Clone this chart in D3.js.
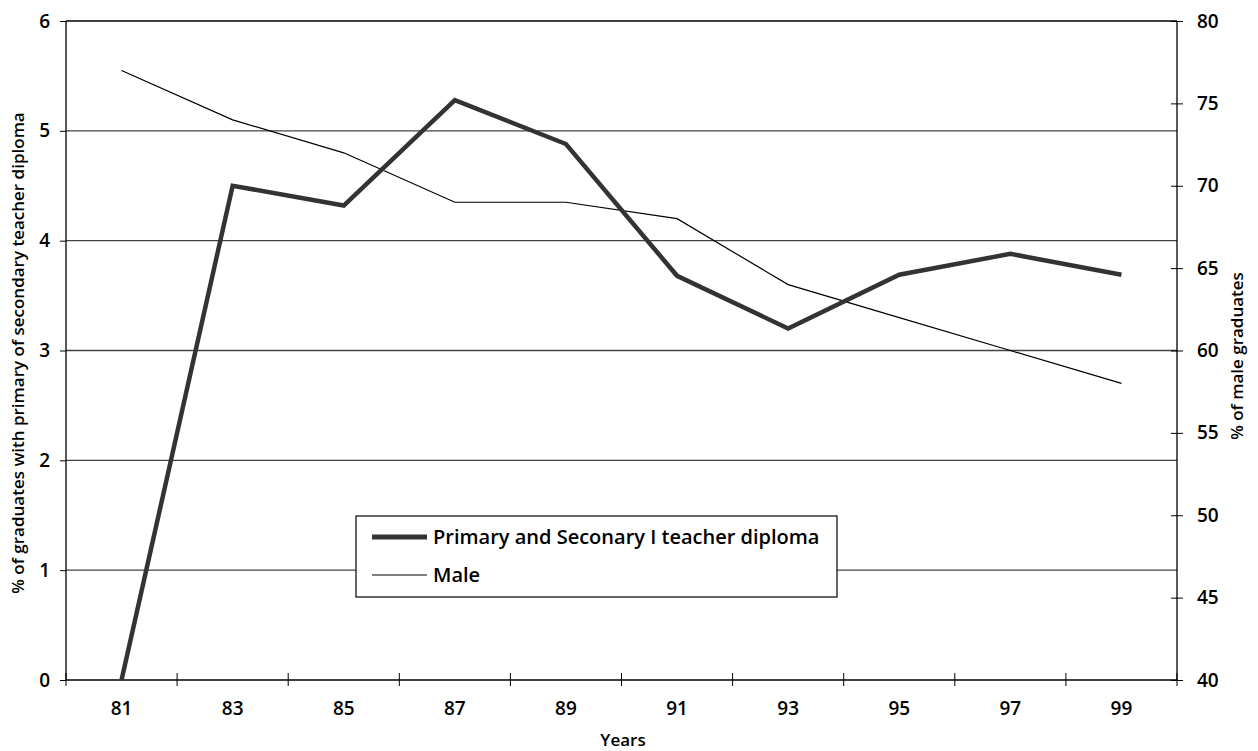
<!DOCTYPE html>
<html>
<head>
<meta charset="utf-8">
<script src="https://cdn.jsdelivr.net/npm/d3@7"></script>
<style>
  body { margin: 0; background: #fff; }
  text { font-family: "Open Sans", "Liberation Sans", Arial, sans-serif; font-weight: 600; fill: #000; }
</style>
</head>
<body>
<svg id="chart" width="1258" height="751"></svg>
<script>
const years = ["81", "83", "85", "87", "89", "91", "93", "95", "97", "99"];
const diploma = [0, 4.5, 4.32, 5.28, 4.88, 3.68, 3.2, 3.69, 3.88, 3.69];
const male = [77, 74, 72, 69, 69, 68, 64, 62, 60, 58];
const leftTicks = [0, 1, 2, 3, 4, 5, 6];
const rightTicks = [40, 45, 50, 55, 60, 65, 70, 75, 80];

const FONT = "Open Sans, Liberation Sans, Arial, sans-serif";
const svg = d3.select("#chart");
const m = { left: 66, right: 1177, top: 21, bottom: 680 };

const x = d3.scaleBand().domain(years).range([m.left, m.right]);
const yL = d3.scaleLinear().domain([0, 6]).range([m.bottom, m.top]);
const yR = d3.scaleLinear().domain([40, 80]).range([m.bottom, m.top]);

// gridlines
svg.append("g")
  .selectAll("line")
  .data(leftTicks.slice(1))
  .join("line")
  .attr("x1", m.left).attr("x2", m.right)
  .attr("y1", d => yL(d)).attr("y2", d => yL(d))
  .attr("stroke", d => d === 6 ? "#000" : "#444")
  .attr("stroke-width", 1.3);

// axes
const gL = svg.append("g").attr("transform", `translate(${m.left},0)`)
  .call(d3.axisLeft(yL).tickValues(leftTicks).tickSize(6).tickPadding(10).tickFormat(d3.format("d")));
const gB = svg.append("g").attr("transform", `translate(0,${m.bottom})`)
  .call(d3.axisBottom(x).tickSize(0).tickPadding(22));
const gR = svg.append("g").attr("transform", `translate(${m.right},0)`)
  .call(d3.axisRight(yR).tickValues(rightTicks).tickSize(6).tickPadding(14));

[gL, gB, gR].forEach(g => {
  g.select(".domain").attr("stroke", "#000").attr("stroke-width", 1.3);
  g.selectAll("text").attr("font-size", 19).attr("font-family", FONT).attr("font-weight", 600);
  g.selectAll(".tick line").attr("stroke", "#000");
});
gR.selectAll(".tick line").attr("x1", -6);
gR.select(".domain").attr("d", `M0,${m.top}V${m.bottom}`);
gL.select(".domain").attr("d", `M0,${m.top}V${m.bottom}`);
gB.select(".domain").attr("d", `M${m.left},0H${m.right}`);

// band edge ticks on the x axis
const edges = years.map(d => x(d)).concat([m.right]);
svg.append("g").selectAll("line").data(edges).join("line")
  .attr("x1", d => d).attr("x2", d => d)
  .attr("y1", m.bottom - 7).attr("y2", m.bottom + 6)
  .attr("stroke", "#000");

const cx = d => x(d) + x.bandwidth() / 2;

// male line
svg.append("path")
  .datum(years.map((d, i) => [cx(d), yR(male[i])]))
  .attr("fill", "none").attr("stroke", "#000").attr("stroke-width", 1.2)
  .attr("d", d3.line());

// diploma line
svg.append("path")
  .datum(years.map((d, i) => [cx(d), yL(diploma[i])]))
  .attr("fill", "none").attr("stroke", "#333").attr("stroke-width", 4.5)
  .attr("d", d3.line());

// axis titles
svg.append("text").attr("x", 623).attr("y", 746)
  .attr("text-anchor", "middle").attr("font-size", 17).text("Years");
svg.append("text").attr("transform", `translate(24,353) rotate(-90)`)
  .attr("text-anchor", "middle").attr("font-size", 17)
  .text("% of graduates with primary of secondary teacher diploma");
svg.append("text").attr("transform", `translate(1243,356) rotate(-90)`)
  .attr("text-anchor", "middle").attr("font-size", 17)
  .text("% of male graduates");

// legend
const leg = svg.append("g").attr("transform", "translate(356,516)");
leg.append("rect").attr("width", 481).attr("height", 81)
  .attr("fill", "#fff").attr("stroke", "#000").attr("stroke-width", 1.2);
const legItems = [
  { label: "Primary and Seconary I teacher diploma", w: 5, c: "#333", y: 21 },
  { label: "Male", w: 1.2, c: "#000", y: 59 }
];
legItems.forEach(it => {
  leg.append("line").attr("x1", 16).attr("x2", 71).attr("y1", it.y).attr("y2", it.y)
    .attr("stroke", it.c).attr("stroke-width", it.w);
  leg.append("text").attr("x", 77).attr("y", it.y + 7).attr("font-size", 20).text(it.label);
});
</script>
</body>
</html>
